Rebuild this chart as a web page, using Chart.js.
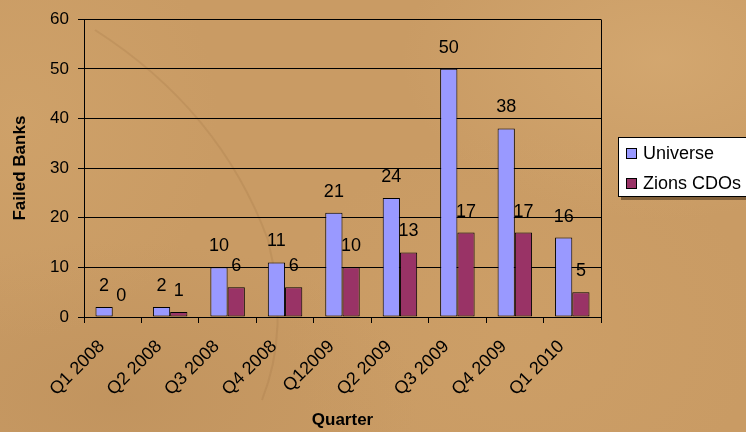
<!DOCTYPE html>
<html>
<head>
<meta charset="utf-8">
<script src="https://cdn.jsdelivr.net/npm/chart.js@4/dist/chart.umd.min.js"></script>
<style>
  html, body { margin: 0; padding: 0; }
  body {
    width: 746px; height: 432px; overflow: hidden;
    background-color: #c99b64;
    background-image:
      radial-gradient(ellipse 260px 160px at 660px 60px, rgba(222,180,124,0.45), rgba(222,180,124,0) 100%),
      radial-gradient(ellipse 200px 220px at 20px 120px, rgba(214,170,112,0.40), rgba(214,170,112,0) 100%),
      radial-gradient(ellipse 300px 160px at 120px 400px, rgba(176,132,82,0.30), rgba(176,132,82,0) 100%),
      radial-gradient(ellipse 240px 200px at 520px 330px, rgba(212,166,108,0.30), rgba(212,166,108,0) 100%);
  }
  canvas { display: block; }
</style>
</head>
<body>
<canvas id="chart" width="746" height="432"></canvas>
<script>
// Failed banks per quarter: all banks vs. banks held in Zions CDOs
const quarters = ['Q1 2008', 'Q2 2008', 'Q3 2008', 'Q4 2008', 'Q12009', 'Q2 2009', 'Q3 2009', 'Q4 2009', 'Q1 2010'];
const universe = [2, 2, 10, 11, 21, 24, 50, 38, 16];
const zionsCdos = [0, 1, 6, 6, 10, 13, 17, 17, 5];
const yTickValues = [0, 10, 20, 30, 40, 50, 60];

const FONT = '"Liberation Sans", Arial, sans-serif';

// faint crease in the sand backdrop
const backdrop = {
  id: 'backdrop',
  beforeDraw(chart) {
    const ctx = chart.ctx;
    ctx.save();
    ctx.strokeStyle = 'rgba(125,85,45,0.12)';
    ctx.lineWidth = 2;
    ctx.beginPath();
    ctx.moveTo(95, 30);
    ctx.quadraticCurveTo(220, 110, 268, 240);
    ctx.quadraticCurveTo(290, 330, 262, 400);
    ctx.stroke();
    ctx.restore();
  }
};

// right-hand frame line of the plot area
const frame = {
  id: 'frame',
  afterDraw(chart) {
    const a = chart.chartArea, ctx = chart.ctx;
    ctx.save();
    ctx.strokeStyle = '#000';
    ctx.lineWidth = 1;
    ctx.beginPath();
    ctx.moveTo(Math.round(a.right) + 0.5, Math.round(a.top) + 0.5);
    ctx.lineTo(Math.round(a.right) + 0.5, Math.round(a.bottom) + 0.5);
    ctx.stroke();
    ctx.restore();
  }
};

// value printed above each bar
const valueLabels = {
  id: 'valueLabels',
  afterDatasetsDraw(chart) {
    const ctx = chart.ctx;
    ctx.save();
    ctx.font = '18px ' + FONT;
    ctx.fillStyle = '#000';
    ctx.textAlign = 'center';
    ctx.textBaseline = 'middle';
    chart.data.datasets.forEach((ds, i) => {
      chart.getDatasetMeta(i).data.forEach((bar, j) => {
        ctx.fillText(String(ds.data[j]), bar.x, bar.y - 21);
      });
    });
    ctx.restore();
  }
};

// boxed legend on the right
const boxLegend = {
  id: 'boxLegend',
  afterDraw(chart) {
    const ctx = chart.ctx;
    const lx = 618, ly = 137, lw = 140, lh = 60;
    ctx.save();
    ctx.fillStyle = 'rgba(70,45,20,0.55)';
    ctx.fillRect(lx + 3, ly + 3, lw, lh);
    ctx.fillStyle = '#fff';
    ctx.fillRect(lx, ly, lw, lh);
    ctx.strokeStyle = '#000';
    ctx.lineWidth = 1;
    ctx.strokeRect(lx + 0.5, ly + 0.5, lw - 1, lh - 1);
    ctx.font = '18px ' + FONT;
    ctx.textAlign = 'left';
    ctx.textBaseline = 'alphabetic';
    chart.data.datasets.forEach((ds, i) => {
      const ry = ly + 11 + i * 30;
      ctx.fillStyle = ds.backgroundColor;
      ctx.fillRect(lx + 8, ry, 10, 10);
      ctx.strokeStyle = '#000';
      ctx.strokeRect(lx + 8.5, ry + 0.5, 10, 10);
      ctx.fillStyle = '#000';
      ctx.fillText(ds.label, lx + 25, ly + 21.5 + i * 30);
    });
    ctx.restore();
  }
};

new Chart(document.getElementById('chart'), {
  type: 'bar',
  data: {
    labels: quarters,
    datasets: [
      { label: 'Universe', data: universe, backgroundColor: '#9999ff',
        borderColor: '#000', borderWidth: 1, borderSkipped: false },
      { label: 'Zions CDOs', data: zionsCdos, backgroundColor: '#993366',
        borderColor: '#000', borderWidth: 1, borderSkipped: false }
    ]
  },
  options: {
    responsive: false,
    animation: false,
    events: [],
    layout: { padding: { top: 19, right: 145, left: 0, bottom: 0 } },
    datasets: { bar: { categoryPercentage: 0.6, barPercentage: 1.0 } },
    plugins: { legend: { display: false }, tooltip: { enabled: false } },
    scales: {
      x: {
        grid: { drawOnChartArea: false, color: '#000', tickLength: 6, offset: true },
        border: { color: '#000', width: 1 },
        ticks: {
          color: '#000', font: { family: FONT, size: 18 },
          minRotation: 45, maxRotation: 45, autoSkip: false,
          padding: 13, labelOffset: -11
        },
        title: {
          display: true, text: 'Quarter', color: '#000',
          font: { family: FONT, size: 17, weight: 'bold' },
          padding: { top: 0, bottom: 1 }
        },
        afterFit(s) { s.height = 115; }
      },
      y: {
        min: 0, max: 60,
        afterBuildTicks(s) { s.ticks = yTickValues.map(v => ({ value: v })); },
        grid: { color: '#000', lineWidth: 1, tickLength: 6 },
        border: { color: '#000', width: 1 },
        ticks: { color: '#000', font: { family: FONT, size: 17 }, padding: 9 },
        title: {
          display: true, text: 'Failed Banks', color: '#000',
          font: { family: FONT, size: 17, weight: 'bold' },
          padding: { top: 10, bottom: 0 }
        },
        afterFit(s) { s.width = 84; }
      }
    }
  },
  plugins: [backdrop, frame, valueLabels, boxLegend]
});
</script>
</body>
</html>
